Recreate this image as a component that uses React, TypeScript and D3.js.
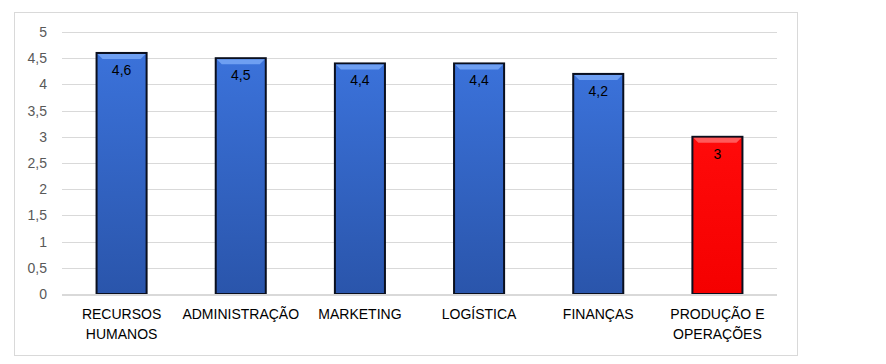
import React, { useEffect, useRef } from 'react';
import * as d3 from 'd3';

const categories = ['RECURSOS HUMANOS', 'ADMINISTRAÇÃO', 'MARKETING', 'LOGÍSTICA', 'FINANÇAS', 'PRODUÇÃO E OPERAÇÕES'];
const categoryLines = [['RECURSOS', 'HUMANOS'], ['ADMINISTRAÇÃO'], ['MARKETING'], ['LOGÍSTICA'], ['FINANÇAS'], ['PRODUÇÃO E', 'OPERAÇÕES']];
const values = [4.6, 4.5, 4.4, 4.4, 4.2, 3];
const highlighted = [false, false, false, false, false, true];
const yTicks = [0, 0.5, 1, 1.5, 2, 2.5, 3, 3.5, 4, 4.5, 5];

const fmt = (v: number) => String(v).replace('.', ',');

const App: React.FC = () => {
  const svgRef = useRef<SVGSVGElement>(null);

  useEffect(() => {
    if (!svgRef.current) return;
    const root = d3.select(svgRef.current);
    root.selectAll('*').remove();

    const W = 886;
    const H = 364;
    const margin = { top: 32, right: 109, bottom: 70, left: 62 };
    const width = W - margin.left - margin.right;
    const height = H - margin.top - margin.bottom;

    root.attr('width', W).attr('height', H);

    // Gradients
    const defs = root.append('defs');
    const blue = defs.append('linearGradient').attr('id', 'blueGrad').attr('x1', 0).attr('y1', 0).attr('x2', 0).attr('y2', 1);
    blue.append('stop').attr('offset', '0%').attr('stop-color', '#3b72da');
    blue.append('stop').attr('offset', '100%').attr('stop-color', '#2a55ab');
    const red = defs.append('linearGradient').attr('id', 'redGrad').attr('x1', 0).attr('y1', 0).attr('x2', 0).attr('y2', 1);
    red.append('stop').attr('offset', '0%').attr('stop-color', '#ff0a0a');
    red.append('stop').attr('offset', '100%').attr('stop-color', '#f50000');

    // Chart border
    root.append('rect')
      .attr('x', 14.5)
      .attr('y', 12.5)
      .attr('width', 783)
      .attr('height', 343)
      .attr('fill', 'white')
      .attr('stroke', '#d9d9d9');

    const svg = root.append('g').attr('transform', `translate(${margin.left},${margin.top})`);

    const x = d3.scaleBand<string>().domain(categories).range([0, width]).paddingInner(0.58).paddingOuter(0.29);
    const y = d3.scaleLinear().domain([0, 5]).range([height, 0]);

    // Gridlines
    svg.append('g')
      .selectAll('line')
      .data(yTicks.filter(t => t > 0))
      .enter().append('line')
      .attr('x1', 0)
      .attr('x2', width)
      .attr('y1', d => Math.round(y(d)) + 0.5)
      .attr('y2', d => Math.round(y(d)) + 0.5)
      .attr('stroke', '#d9d9d9');

    // Y tick labels
    svg.append('g')
      .selectAll('text')
      .data(yTicks)
      .enter().append('text')
      .attr('x', -15)
      .attr('y', d => y(d))
      .attr('dy', '0.35em')
      .attr('text-anchor', 'end')
      .attr('font-family', 'Liberation Sans, Arial, sans-serif')
      .attr('font-size', 14)
      .attr('fill', '#595959')
      .text(d => fmt(d));

    // Bars
    const bars = svg.append('g')
      .selectAll('g')
      .data(values)
      .enter().append('g');

    bars.append('rect')
      .attr('x', (d, i) => x(categories[i]) as number)
      .attr('y', d => y(d))
      .attr('width', x.bandwidth())
      .attr('height', d => height - y(d))
      .attr('fill', (d, i) => highlighted[i] ? 'url(#redGrad)' : 'url(#blueGrad)')
      .attr('stroke', '#0a0f1e')
      .attr('stroke-width', 2);

    // top bevel
    bars.append('path')
      .attr('d', (d, i) => {
        const x0 = (x(categories[i]) as number) + 1;
        const x1 = x0 + x.bandwidth() - 2;
        const y0 = y(d) + 1;
        return `M${x0},${y0}L${x1},${y0}L${x1 - 5},${y0 + 5}L${x0 + 5},${y0 + 5}Z`;
      })
      .attr('fill', (d, i) => highlighted[i] ? '#ff5a5a' : '#6e9ff2');

    // Data labels
    bars.append('text')
      .attr('x', (d, i) => (x(categories[i]) as number) + x.bandwidth() / 2)
      .attr('y', d => y(d) + 22)
      .attr('text-anchor', 'middle')
      .attr('font-family', 'Liberation Sans, Arial, sans-serif')
      .attr('font-size', 14)
      .attr('fill', '#000')
      .text(d => fmt(d));

    // Zero axis line
    svg.append('line')
      .attr('x1', 0)
      .attr('x2', width)
      .attr('y1', height + 1)
      .attr('y2', height + 1)
      .attr('stroke', '#d9d9d9')
      .attr('stroke-width', 2);

    // Category labels
    const cat = svg.append('g')
      .selectAll('text')
      .data(categories)
      .enter().append('text')
      .attr('x', d => (x(d) as number) + x.bandwidth() / 2)
      .attr('y', height + 25)
      .attr('text-anchor', 'middle')
      .attr('font-family', 'Liberation Sans, Arial, sans-serif')
      .attr('font-size', 14)
      .attr('fill', '#000');

    cat.selectAll('tspan')
      .data((d, i) => categoryLines[i])
      .enter().append('tspan')
      .attr('x', function () {
        return (this.parentNode as SVGTextElement).getAttribute('x');
      })
      .attr('dy', (d, i) => i === 0 ? 0 : 20)
      .text(d => d);
  }, []);

  return <svg ref={svgRef} style={{ position: 'absolute', left: 0, top: 0 }}></svg>;
};

export default App;
